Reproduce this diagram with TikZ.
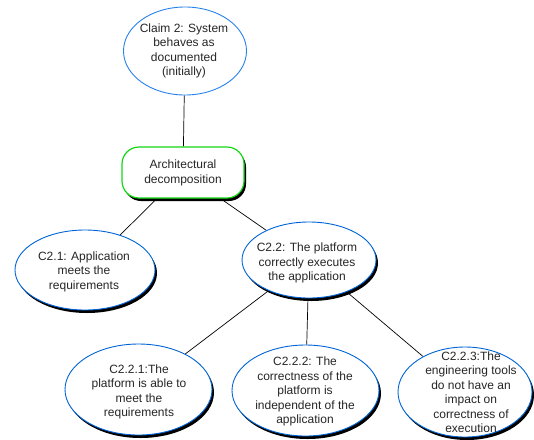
\documentclass[tikz,border=0pt]{standalone}
\usepackage{fontspec}
\setmainfont{Liberation Sans}
\usetikzlibrary{shapes.geometric,shadows,backgrounds}
\definecolor{topblue}{RGB}{40,130,235}
\definecolor{ellblue}{RGB}{0,100,215}
\definecolor{boxgreen}{RGB}{20,215,20}
\tikzset{
  claimell/.style={ellipse, draw=topblue, line width=0.9pt, fill=white, inner sep=0pt},
  subell/.style={ellipse, draw=ellblue, line width=0.9pt, fill=white, inner sep=0pt,
    drop shadow={shadow xshift=2pt, shadow yshift=-3pt, fill=black, opacity=1}},
  archbox/.style={rectangle, rounded corners=17pt, draw=boxgreen, line width=1.2pt, fill=white,
    inner sep=0pt, drop shadow={shadow xshift=2pt, shadow yshift=-3pt, fill=black, opacity=1}},
  txt/.style={align=center, inner sep=0pt, font=\fontsize{12}{14.5}\selectfont, text=black!85},
  conn/.style={draw=black, line width=0.7pt}
}
\begin{document}
\begin{tikzpicture}[x=1pt,y=-1pt]
\useasboundingbox (0,0) rectangle (534,439);
\node[claimell, minimum width=123pt, minimum height=88pt] (claim) at (185,51) {};
\node[txt] (claimt) at (184,51) {Claim 2: System\\behaves as\\documented\\(initially)};
\node[archbox, minimum width=122pt, minimum height=51pt] (arch) at (183,172.5) {};
\node[txt] (archt) at (183,173) {Architectural\\decomposition};
\node[subell, minimum width=140pt, minimum height=80pt] (c21) at (85,270) {};
\node[txt] (c21t) at (84,271.5) {C2.1: Application\\meets the\\requirements};
\node[subell, minimum width=134pt, minimum height=76pt] (c22) at (309,260) {};
\node[txt] (c22t) at (307,263) {C2.2: The platform\\correctly executes\\the application};
\node[subell, minimum width=147pt, minimum height=91pt] (c221) at (138.5,389.5) {};
\node[txt] (c221t) at (139,392) {C2.2.1:The\\platform is able to\\meet the\\requirements};
\node[subell, minimum width=147pt, minimum height=91pt] (c222) at (305.5,390.5) {};
\node[txt] (c222t) at (305,391.5) {C2.2.2: The\\correctness of the\\platform is\\independent of the\\application};
\node[subell, minimum width=134pt, minimum height=90pt] (c223) at (465,392) {};
\node[txt] (c223t) at (471,392) {C2.2.3:The\\engineering tools\\do not have an\\impact on\\correctness of\\execution};
\begin{scope}[on background layer]
\draw[conn] (claim) -- (arch);
\draw[conn] (arch) -- (c21);
\draw[conn] (arch) -- (c22);
\draw[conn] (c22) -- (c221);
\draw[conn] (c22) -- (c222);
\draw[conn] (c22) -- (c223);
\end{scope}
\end{tikzpicture}
\end{document}
